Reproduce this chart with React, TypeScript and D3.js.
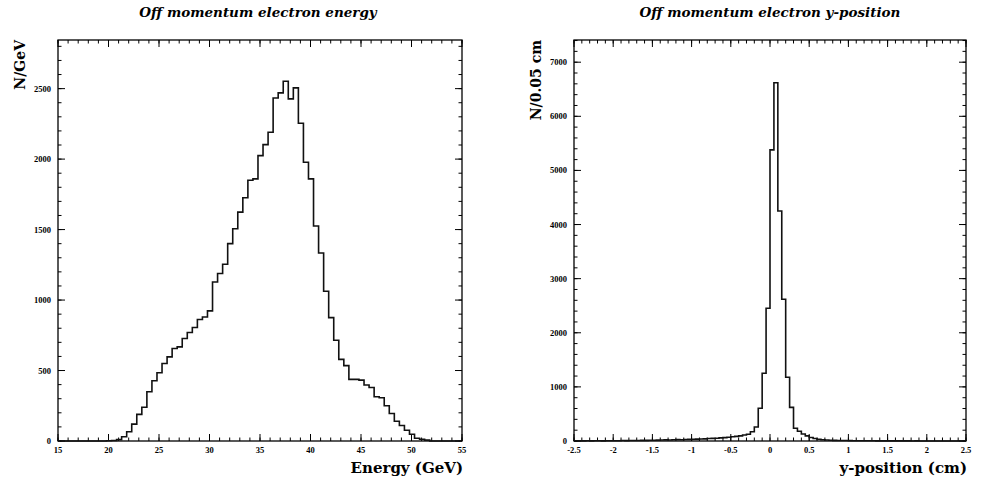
import React from "react";
import * as d3 from "d3";

// ---------- Data ----------
// Left: energy histogram, 80 bins of 0.5 GeV (bin edges)
const energyBinStart = 14.8;
const energyBinWidth = 0.5;
const energyCounts = [
  0, 0, 0, 0, 0, 0, 0, 0, 0, 0,
  2, 4, 10,
  30, 66, 120, 189, 239, 349, 427, 484, 550, 597, 656, 668, 727, 770, 805, 862, 880, 923,
  1128, 1188, 1254, 1400, 1506, 1624, 1726, 1850, 1860, 2025, 2103, 2191, 2434, 2470, 2552,
  2427, 2505, 2254, 1978, 1860, 1525, 1334, 1062, 875, 715, 579, 535, 437, 437, 432, 397,
  380, 314, 307, 250, 195, 140, 110, 76, 48, 19, 12, 6,
  0, 0, 0, 0, 0, 0,
];
const energyXTicks = [15, 20, 25, 30, 35, 40, 45, 50, 55];
const energyYTicks = [0, 500, 1000, 1500, 2000, 2500];

// Right: y-position histogram, 100 bins of 0.05 cm from -2.5 to 2.5
const yposBinStart = -2.5;
const yposBinWidth = 0.05;
const yposCounts = [
  2, 3, 2, 4, 3, 5, 4, 3, 5, 6,
  5, 6, 8, 7, 9, 8, 10, 12, 11, 14,
  15, 16, 18, 20, 19, 22, 25, 24, 28, 30,
  32, 35, 38, 40, 45, 48, 52, 58, 62, 70,
  78, 85, 95, 110, 125,
  170, 260,
  604, 1251, 2452, 5380, 6620, 4251, 2619, 1177, 622, 235,
  180, 130, 95,
  65, 45, 32, 24, 18, 15, 12, 10, 9, 8,
  7, 6, 6, 5, 5, 4, 4, 3, 3, 3,
  3, 2, 3, 2, 2, 2, 1, 2, 1, 1,
  1, 1, 1, 1, 0, 1, 0, 1, 0, 0,
];
const yposXTicks = [-2.5, -2, -1.5, -1, -0.5, 0, 0.5, 1, 1.5, 2, 2.5];
const yposXTickLabels = ["-2.5", "-2", "-1.5", "-1", "-0.5", "0", "0.5", "1", "1.5", "2", "2.5"];
const yposYTicks = [0, 1000, 2000, 3000, 4000, 5000, 6000, 7000];

const SERIF = "'DejaVu Serif', serif";
const TICKFONT = "'Liberation Serif', 'Times New Roman', serif";

type PanelProps = {
  id: string;
  title: string;
  xLabel: string;
  yLabel: string;
  left: number;
  right: number;
  top: number;
  bottom: number;
  xDomain: [number, number];
  yMax: number;
  binStart: number;
  binWidth: number;
  counts: number[];
  xTicks: number[];
  xTickLabels: string[];
  xMinorStep: number;
  yTicks: number[];
  yMinorStep: number;
  yLabelX: number;
  titleX: number;
};

function Panel(p: PanelProps) {
  const x = d3.scaleLinear().domain(p.xDomain).range([p.left, p.right]);
  const y = d3.scaleLinear().domain([0, p.yMax]).range([p.bottom, p.top]);

  const pts: [number, number][] = p.counts.map((c, i) => [p.binStart + i * p.binWidth, c]);
  pts.push([p.binStart + p.counts.length * p.binWidth, p.counts[p.counts.length - 1]]);
  const line = d3
    .line<[number, number]>()
    .x((d) => x(d[0]))
    .y((d) => y(d[1]))
    .curve(d3.curveStepAfter);
  const path = line(pts) || "";

  const xMinor = d3.range(p.xDomain[0], p.xDomain[1] + 1e-9, p.xMinorStep);
  const yMinor = d3.range(0, p.yMax, p.yMinorStep);
  const major = 7;
  const minor = 3.5;
  const tickStroke = { stroke: "#000", strokeWidth: 1 };

  return (
    <g>
      <defs>
        <clipPath id={"clip-" + p.id}>
          <rect x={p.left} y={p.top - 2} width={p.right - p.left} height={p.bottom - p.top + 4} />
        </clipPath>
      </defs>
      <text
        x={p.titleX}
        y={17}
        textAnchor="middle"
        fontFamily={SERIF}
        fontStyle="italic"
        fontWeight="bold"
        fontSize={13.5}
        fill="#000"
      >
        {p.title}
      </text>
      <rect
        x={p.left}
        y={p.top}
        width={p.right - p.left}
        height={p.bottom - p.top}
        fill="none"
        stroke="#000"
        strokeWidth={1.3}
      />
      {xMinor.map((v, i) => (
        <g key={"xm" + i}>
          <line x1={x(v)} x2={x(v)} y1={p.bottom} y2={p.bottom - minor} {...tickStroke} />
          <line x1={x(v)} x2={x(v)} y1={p.top} y2={p.top + minor} {...tickStroke} />
        </g>
      ))}
      {p.xTicks.map((v, i) => (
        <g key={"xM" + i}>
          <line x1={x(v)} x2={x(v)} y1={p.bottom} y2={p.bottom - major} {...tickStroke} />
          <line x1={x(v)} x2={x(v)} y1={p.top} y2={p.top + major} {...tickStroke} />
          <text
            x={x(v)}
            y={p.bottom + 12}
            textAnchor="middle"
            fontFamily={TICKFONT}
            fontWeight="bold"
            fontSize={8.5}
            fill="#000"
          >
            {p.xTickLabels[i]}
          </text>
        </g>
      ))}
      {yMinor.map((v, i) => (
        <g key={"ym" + i}>
          <line x1={p.left} x2={p.left + minor} y1={y(v)} y2={y(v)} {...tickStroke} />
          <line x1={p.right} x2={p.right - minor} y1={y(v)} y2={y(v)} {...tickStroke} />
        </g>
      ))}
      {p.yTicks.map((v, i) => (
        <g key={"yM" + i}>
          <line x1={p.left} x2={p.left + major} y1={y(v)} y2={y(v)} {...tickStroke} />
          <line x1={p.right} x2={p.right - major} y1={y(v)} y2={y(v)} {...tickStroke} />
          <text
            x={p.left - 7}
            y={y(v) + 3}
            textAnchor="end"
            fontFamily={TICKFONT}
            fontWeight="bold"
            fontSize={8.5}
            fill="#000"
          >
            {String(v)}
          </text>
        </g>
      ))}
      <path
        d={path}
        fill="none"
        stroke="#111"
        strokeWidth={1.6}
        clipPath={`url(#clip-${p.id})`}
      />
      <text
        x={p.right + 1}
        y={473}
        textAnchor="end"
        fontFamily={SERIF}
        fontWeight="bold"
        fontSize={15}
        fill="#000"
      >
        {p.xLabel}
      </text>
      <text
        transform={`translate(${p.yLabelX},${p.top}) rotate(-90)`}
        textAnchor="end"
        fontFamily={SERIF}
        fontWeight="bold"
        fontSize={14}
        fill="#000"
      >
        {p.yLabel}
      </text>
    </g>
  );
}

export default function App() {
  return (
    <svg
      width={981}
      height={481}
      viewBox="0 0 981 481"
      style={{ position: "absolute", left: 0, top: 0, background: "#fff" }}
    >
      <rect x={0} y={0} width={981} height={481} fill="#fff" />
      <Panel
        id="energy"
        title="Off momentum electron energy"
        xLabel="Energy (GeV)"
        yLabel="N/GeV"
        left={58}
        right={462}
        top={40}
        bottom={441}
        xDomain={[15, 55]}
        yMax={2845}
        binStart={energyBinStart}
        binWidth={energyBinWidth}
        counts={energyCounts}
        xTicks={energyXTicks}
        xTickLabels={energyXTicks.map(String)}
        xMinorStep={1}
        yTicks={energyYTicks}
        yMinorStep={100}
        yLabelX={25}
        titleX={258}
      />
      <Panel
        id="ypos"
        title="Off momentum electron y-position"
        xLabel="y-position (cm)"
        yLabel="N/0.05 cm"
        left={574}
        right={966}
        top={40}
        bottom={441}
        xDomain={[-2.5, 2.5]}
        yMax={7410}
        binStart={yposBinStart}
        binWidth={yposBinWidth}
        counts={yposCounts}
        xTicks={yposXTicks}
        xTickLabels={yposXTickLabels}
        xMinorStep={0.1}
        yTicks={yposYTicks}
        yMinorStep={200}
        yLabelX={541}
        titleX={770}
      />
    </svg>
  );
}
